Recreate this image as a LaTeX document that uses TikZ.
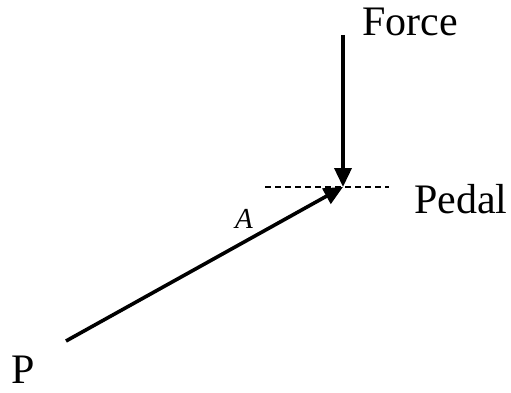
\documentclass[tikz,border=0pt]{standalone}
\usepackage{fontspec}
\setmainfont{Liberation Serif}
\usetikzlibrary{arrows.meta}
\begin{document}
\begin{tikzpicture}[x=1pt,y=1pt,
  lbl/.style={anchor=base west,inner sep=0pt,font=\fontsize{42}{50}\selectfont},
  arr/.style={line width=3.6pt,-{Triangle[length=19pt,width=17pt]}},
  pedalline/.style={line width=2.8pt,dash pattern=on 6pt off 4pt}]
\useasboundingbox (0,0) rectangle (511,392);
\coordinate (tip) at (343,205);
\coordinate (top) at (343,357);
\coordinate (start) at (66,51);
\coordinate (dl) at (265,205);
\coordinate (dr) at (389,205);
\draw[pedalline] (dl) -- (dr);
\draw[arr] (top) -- (tip);
\draw[arr] (start) -- (tip);
\node[lbl] (force) at (362,356) {Force};
\node[lbl] (pedal) at (414,179) {Pedal};
\node[lbl] (p) at (11,9) {P};
\node[lbl,font=\fontsize{29}{34}\selectfont\itshape] (a) at (235,164) {A};
\end{tikzpicture}
\end{document}
